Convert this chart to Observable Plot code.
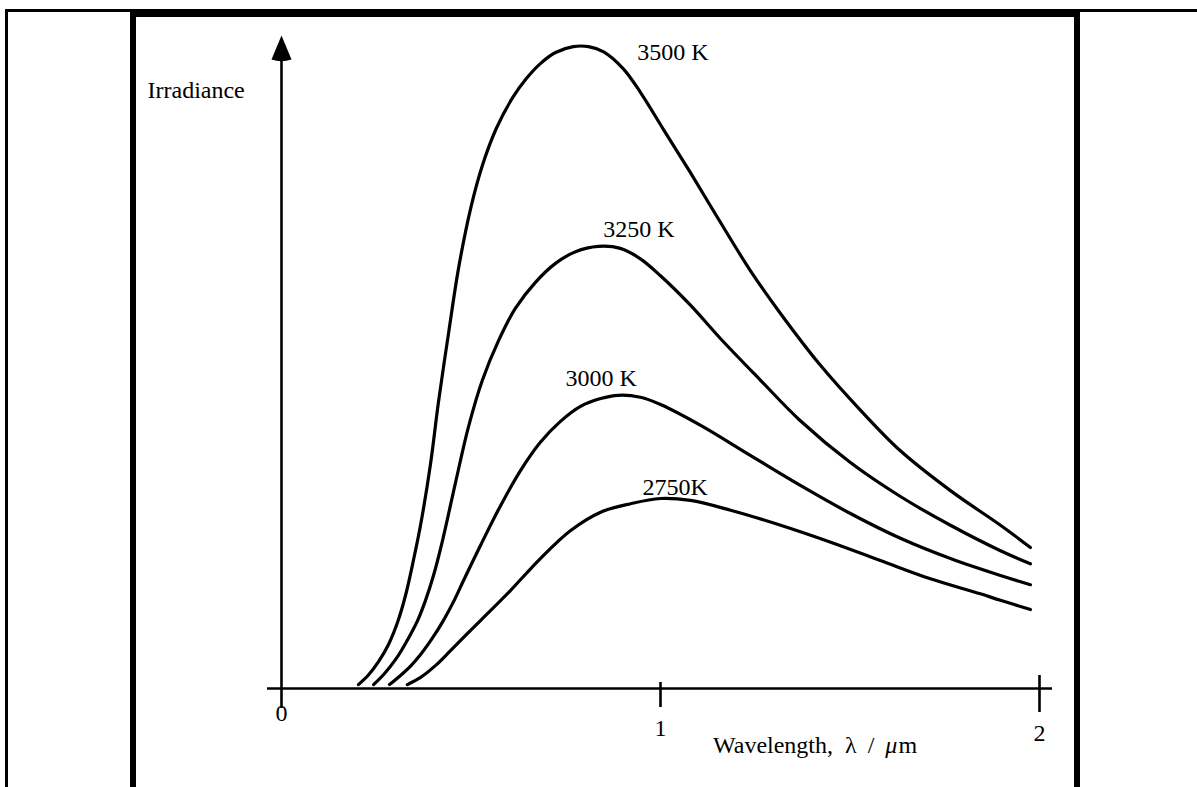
<!DOCTYPE html>
<html>
<head>
<meta charset="utf-8">
<script src="https://cdn.jsdelivr.net/npm/d3@7"></script>
<script src="https://cdn.jsdelivr.net/npm/@observablehq/plot@0.6"></script>
<style>
  html, body { margin: 0; padding: 0; background: #fff; }
  #wrap { position: relative; width: 1197px; height: 787px; overflow: hidden; background: #fff; }
  #wrap svg { position: absolute; left: 0; top: 0; }
  .outer { position: absolute; left: 5px; top: 9px; width: 1400px; height: 900px; border-left: 3px solid #000; border-top: 3px solid #000; }
  .box { position: absolute; left: 130px; top: 9px; width: 938px; height: 900px; border-left: 6px solid #000; border-right: 6px solid #000; border-top: 8px solid #000; background: #fff; }
  .xlabel { position: absolute; left: 713px; top: 733px; font-family: "Liberation Serif", serif; font-size: 24px; line-height: 24px; white-space: pre; color: #000; }
  .xlabel .sep { word-spacing: 5px; }
  .xlabel .mu { letter-spacing: 1px; }
</style>
</head>
<body>
<div id="wrap">
  <div class="outer"></div>
  <div class="box"></div>
</div>
<script>
// ---- data ----
const seriesNames = ["3500 K", "3250 K", "3000 K", "2750K"];

// wavelength (µm) and relative irradiance (arbitrary units, 0–100)
const lambda3500 = [0.203,0.230,0.256,0.282,0.306,0.327,0.348,0.369,0.393,0.414,0.441,0.467,0.499,0.530,0.567,0.609,0.646,0.683,0.723,0.770,0.810,0.850,0.902,0.947,1.008,1.079,1.158,1.237,1.317,1.422,1.528,1.633,1.765,1.897,1.976];
const irr3500    = [0.6,2.1,4.1,6.7,10.1,14.2,19.6,25.7,34.3,43.8,54.5,64.3,73.5,80.1,85.8,90.4,93.4,95.7,97.4,98.3,98.3,97.5,94.9,91.3,85.6,79.0,71.4,64.0,57.4,49.5,42.6,36.4,30.3,25.0,21.6];

const lambda3250 = [0.243,0.272,0.303,0.332,0.359,0.380,0.401,0.425,0.459,0.493,0.530,0.573,0.617,0.670,0.723,0.776,0.836,0.894,0.947,1.000,1.079,1.158,1.264,1.369,1.501,1.633,1.765,1.897,1.976];
const irr3250    = [0.6,2.3,4.6,7.4,10.4,13.5,17.3,22.7,31.5,40.0,47.2,53.3,58.2,62.2,65.1,66.9,67.7,67.4,65.8,63.2,58.7,53.6,47.2,41.0,34.6,29.4,25.0,21.1,19.1];

const lambda3000 = [0.285,0.314,0.340,0.367,0.398,0.427,0.454,0.480,0.525,0.578,0.631,0.683,0.736,0.789,0.842,0.889,0.947,1.000,1.106,1.237,1.369,1.501,1.633,1.765,1.897,1.976];
const irr3000    = [0.6,2.0,3.4,5.2,7.7,10.4,13.3,16.5,21.9,28.0,33.4,37.7,40.9,43.2,44.4,44.9,44.6,43.5,40.3,35.7,31.1,26.8,23.0,19.9,17.3,15.9];

const lambda2750 = [0.332,0.367,0.406,0.446,0.485,0.525,0.604,0.683,0.763,0.842,0.921,1.000,1.079,1.185,1.317,1.449,1.580,1.712,1.844,1.897,1.976];
const irr2750    = [0.6,1.7,3.5,5.8,8.1,10.4,15.0,19.9,24.2,27.0,28.3,29.1,28.8,27.3,25.0,22.4,19.6,16.8,14.5,13.5,12.1];

const xTicks = [0, 1, 2];
const xTickLabels = ["0", "1", "2"];
const yAxisLabel = "Irradiance";

// ---- build table ----
const lambdas = [lambda3500, lambda3250, lambda3000, lambda2750];
const irrs = [irr3500, irr3250, irr3000, irr2750];
const rows = [];
seriesNames.forEach((name, k) => {
  lambdas[k].forEach((l, i) => rows.push({series: name, lambda: l, irr: irrs[k][i]}));
});
const peaks = seriesNames.map((name, k) => {
  const i = d3.maxIndex(irrs[k]);
  return {series: name, lambda: lambdas[k][i], irr: irrs[k][i]};
});

// label offsets from each curve's peak (px)
const labelOffset = {"3500 K": [64, 13], "3250 K": [5, -9], "3000 K": [-53, -9], "2750K": [-18, -3]};
// tick-label baseline offsets below the axis (px)
const tickLabelDy = [32, 47, 52];
const tickLen = [[0, 0], [6, 19], [13, 24]];

const arrowHead = {
  draw(context, size) {
    const r = Math.sqrt(size / Math.PI);
    context.moveTo(0, 0);
    context.lineTo(r, 2.4 * r);
    context.quadraticCurveTo(0, 2.75 * r, -r, 2.4 * r);
    context.closePath();
  }
};

const marks = [
  // curves
  Plot.line(rows, {x: "lambda", y: "irr", z: "series", curve: "catmull-rom", stroke: "#000", strokeWidth: 3.2, strokeLinecap: "round", strokeLinejoin: "round"}),
  // x axis line
  Plot.ruleY([0], {x1: xTicks[0], x2: xTicks[xTicks.length - 1], insetLeft: -14, insetRight: -13, stroke: "#000", strokeWidth: 2.6}),
  // y axis line
  Plot.ruleX([0], {y1: 0, y2: 100, insetTop: 20, insetBottom: -8, stroke: "#000", strokeWidth: 2.6}),
  Plot.dot([0], {x: 0, y: 100, symbol: arrowHead, r: 10, fill: "#000", stroke: "none"}),
  // y axis label
  Plot.text([yAxisLabel], {frameAnchor: "top-left", textAnchor: "start", lineAnchor: "bottom", dx: 147 - 281, dy: 97 - 35, fill: "#000", fontSize: 24})
];
xTicks.forEach((t, i) => {
  if (i > 0) marks.push(Plot.ruleX([t], {y1: 0, y2: 0, insetTop: -tickLen[i][0], insetBottom: -tickLen[i][1], stroke: "#000", strokeWidth: 2.6}));
  marks.push(Plot.text([xTickLabels[i]], {x: t, y: 0, text: d => d, lineAnchor: "bottom", dy: tickLabelDy[i], fill: "#000", fontSize: 24}));
});
peaks.forEach(p => {
  const [dx, dy] = labelOffset[p.series];
  marks.push(Plot.text([p], {x: "lambda", y: "irr", text: "series", textAnchor: "start", lineAnchor: "bottom", dx, dy, fill: "#000", fontSize: 24}));
});

const chart = Plot.plot({
  width: 1197,
  height: 787,
  marginLeft: 281,
  marginRight: 158,
  marginTop: 35,
  marginBottom: 99,
  x: {domain: [0, 2], axis: null},
  y: {domain: [0, 100], axis: null},
  style: {fontFamily: "'Liberation Serif', 'Times New Roman', serif", fontSize: "24px", background: "transparent", overflow: "visible", color: "#000"},
  marks
});

const wrap = document.getElementById("wrap");
wrap.appendChild(chart);
const xl = document.createElement("div");
xl.className = "xlabel";
xl.innerHTML = "Wavelength,  λ<span class=\"sep\"> / </span><span class=\"mu\"><i>μ</i>m</span>";
wrap.appendChild(xl);
</script>
</body>
</html>
